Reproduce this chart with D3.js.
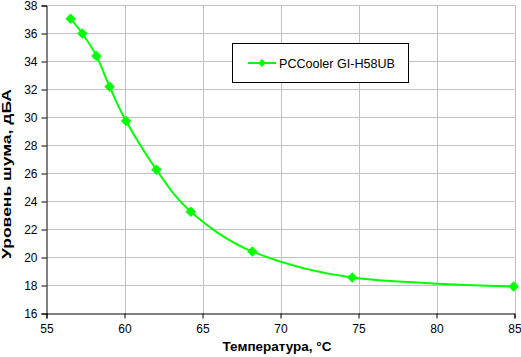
<!DOCTYPE html>
<html><head><meta charset="utf-8">
<script src="https://cdn.jsdelivr.net/npm/d3@7"></script>
<style>body{margin:0;background:#fff}svg{display:block}</style>
</head><body>
<script>
const temps = [56.55, 57.3, 58.2, 59.05, 60.1, 62.05, 64.25, 68.2, 74.6, 84.95];
const noise = [37.05, 36.0, 34.4, 32.2, 29.75, 26.27, 23.27, 20.42, 18.57, 17.93];
const seriesName = "PCCooler GI-H58UB";
const xTicks = [55, 60, 65, 70, 75, 80, 85];
const yTicks = [16, 18, 20, 22, 24, 26, 28, 30, 32, 34, 36, 38];
const xTitle = "Температура, °С";
const yTitle = "Уровень шума, дБА";

const W = 521, H = 357;
const svg = d3.select("body").append("svg").attr("width", W).attr("height", H)
  .style("font-family", "'Liberation Sans', Arial, sans-serif");
const x = d3.scaleLinear().domain([55, 85]).range([46.5, 514.5]);
const y = d3.scaleLinear().domain([16, 38]).range([313.5, 5.5]);

// grid
svg.append("g").selectAll("line").data(xTicks.slice(1)).join("line")
  .attr("x1", d => Math.round(x(d)) + 0.5).attr("x2", d => Math.round(x(d)) + 0.5)
  .attr("y1", y(38)).attr("y2", y(16)).attr("stroke", "#c0c0c0");
svg.append("g").selectAll("line").data(yTicks.slice(1)).join("line")
  .attr("x1", x(55)).attr("x2", x(85))
  .attr("y1", d => Math.round(y(d) - 0.5) + 0.5).attr("y2", d => Math.round(y(d) - 0.5) + 0.5)
  .attr("stroke", "#c0c0c0");

// axes
const xAxis = svg.append("g").attr("transform", `translate(0,${y(16)})`)
  .call(d3.axisBottom(x).tickValues(xTicks).tickSize(5).tickPadding(6).tickFormat(d3.format("d")));
const yAxis = svg.append("g").attr("transform", `translate(${x(55)},0)`)
  .call(d3.axisLeft(y).tickValues(yTicks).tickSize(5).tickPadding(4).tickFormat(d3.format("d")));
[xAxis, yAxis].forEach(a => {
  a.selectAll("path,line").attr("stroke", "#000");
  a.selectAll("text").attr("fill", "#000").style("font-size", "12px")
   .style("font-family", "'Liberation Sans', Arial, sans-serif");
});

// line
const data = temps.map((t, i) => [t, noise[i]]);
svg.append("path").datum(data)
  .attr("d", d3.line().x(d => x(d[0])).y(d => y(d[1])).curve(d3.curveCatmullRom.alpha(0)))
  .attr("fill", "none").attr("stroke", "#00ff00").attr("stroke-width", 2);

const dpath = "M0,-5L5,0L0,5L-5,0Z";
svg.append("g").selectAll("path").data(data).join("path")
  .attr("transform", d => `translate(${x(d[0])},${y(d[1])})`)
  .attr("d", dpath).attr("fill", "#00ff00").attr("stroke", "#00ff00").attr("stroke-width", 0.5);

// legend
const lg = svg.append("g");
lg.append("rect").attr("x", 232.5).attr("y", 43.5).attr("width", 176).attr("height", 39)
  .attr("fill", "#fff").attr("stroke", "#000");
lg.append("line").attr("x1", 248).attr("x2", 276).attr("y1", 63).attr("y2", 63)
  .attr("stroke", "#00ff00").attr("stroke-width", 2);
lg.append("path").attr("transform", "translate(262,63)").attr("d", "M0,-4L4,0L0,4L-4,0Z")
  .attr("fill", "#00ff00");
lg.append("text").attr("x", 279).attr("y", 67.5).text(seriesName)
  .attr("textLength", 116).attr("lengthAdjust", "spacingAndGlyphs")
  .style("font-size", "12.5px").attr("fill", "#000");

// titles
svg.append("text").attr("x", 277).attr("y", 351).attr("text-anchor", "middle")
  .attr("textLength", 109).attr("lengthAdjust", "spacingAndGlyphs")
  .style("font-size", "13px").style("font-weight", "bold").text(xTitle);
svg.append("text").attr("transform", "translate(11,174) rotate(-90)").attr("text-anchor", "middle")
  .attr("textLength", 170).attr("lengthAdjust", "spacingAndGlyphs")
  .style("font-size", "13px").style("font-weight", "bold").text(yTitle);
</script>
</body></html>
